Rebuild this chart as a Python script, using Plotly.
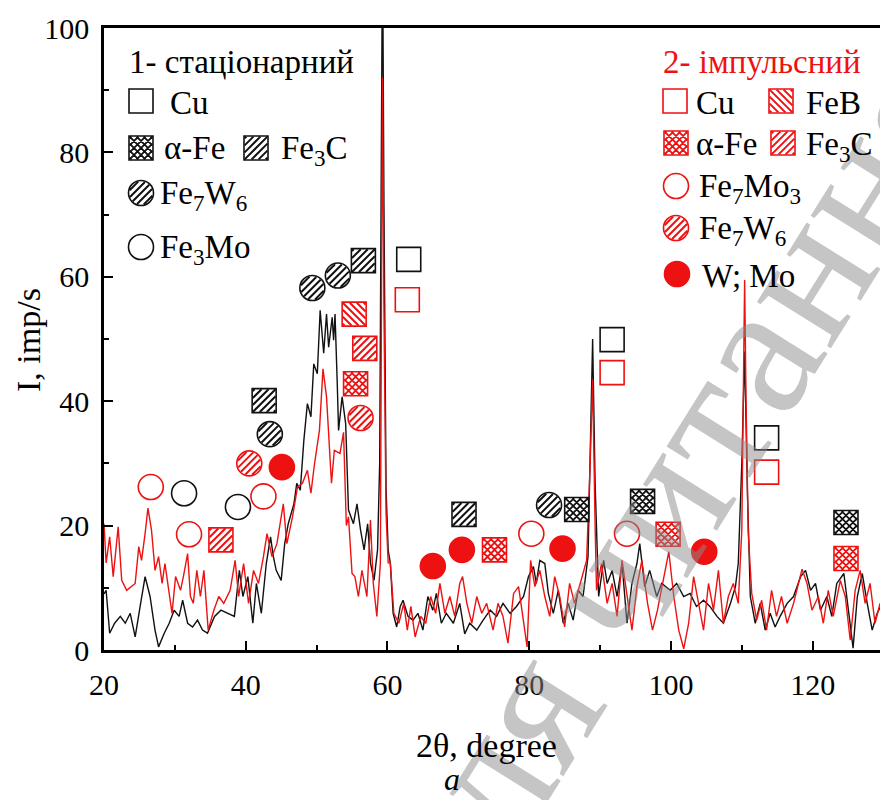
import math
import plotly.graph_objects as go

# ---------------- data: XRD patterns ----------------
x_stat = [20.0, 20.3, 20.8, 21.5, 22.3, 23.0, 23.7, 24.4, 25.1, 25.8, 26.5, 27.2, 27.7, 28.5, 29.2,
          29.9, 30.6, 31.1, 31.8, 32.5, 33.2, 33.9, 34.6, 35.6, 36.5, 37.5, 38.4, 39.1, 39.6, 40.3,
          41.0, 41.5, 42.2, 42.9, 43.5, 43.9, 44.3, 45.0, 45.5, 46.0, 46.8, 47.2, 47.7, 48.2, 48.7,
          49.2, 49.6, 50.1, 50.5, 51.0, 51.4, 51.7, 52.2, 52.4, 52.6, 52.9, 53.1, 53.6, 54.1, 54.5,
          55.2, 55.7, 56.2, 56.7, 57.2, 57.6, 58.1, 58.6, 58.9, 59.1, 59.3, 59.5, 59.8, 60.1, 60.4,
          60.8, 61.3, 61.8, 62.2, 62.9, 63.6, 64.3, 65.0, 65.7, 66.4, 66.9, 67.6, 68.3, 69.3, 70.2,
          70.9, 71.6, 72.6, 73.5, 74.5, 75.4, 76.3, 77.3, 78.2, 79.2, 79.9, 80.6, 81.0, 81.5, 82.2,
          82.7, 83.4, 84.1, 84.8, 85.5, 86.2, 86.9, 87.6, 88.3, 88.7, 88.95, 89.3, 89.8, 90.5, 91.0,
          91.7, 92.4, 93.1, 93.8, 94.5, 95.2, 95.6, 96.3, 97.0, 98.0, 98.7, 99.9, 100.8, 101.8, 102.7,
          103.6, 104.6, 105.5, 106.5, 107.4, 108.4, 109.1, 109.5, 110.0, 110.4, 110.8, 111.2, 111.9,
          112.6, 113.3, 114.0, 114.7, 115.4, 116.4, 117.3, 118.3, 119.0, 119.7, 120.4, 121.1, 122.0,
          122.7, 123.4, 124.4, 125.1, 125.7, 126.3, 127.0, 127.7, 128.4, 129.1, 129.6]
y_stat = [9.0, 9.6, 2.7, 4.3, 5.4, 4.3, 5.9, 2.1, 7.0, 11.8, 8.6, 3.2, 0.5, 2.7, 4.3,
          6.4, 5.4, 8.0, 4.3, 3.7, 4.8, 3.2, 2.7, 5.4, 6.4, 5.9, 5.4, 12.8, 8.6, 11.8,
          4.3, 10.7, 5.9, 13.9, 18.2, 15.0, 12.8, 11.2, 17.1, 20.3, 23.5, 26.8, 25.7, 33.7, 39.6,
          37.5, 46.0, 44.4, 54.6, 47.7, 54.0, 48.7, 53.5, 49.8, 54.0, 43.4, 35.3, 40.7, 36.4, 22.5,
          20.3, 23.5, 19.3, 16.1, 20.3, 14.0, 11.2, 16.1, 30.0, 72.0, 115.0, 72.0, 26.0, 16.0, 14.0,
          5.9, 3.7, 7.0, 8.0, 5.4, 4.8, 5.9, 3.2, 8.6, 6.4, 9.1, 4.3, 5.9, 4.3, 7.5,
          2.6, 4.3, 3.2, 4.8, 6.4, 5.4, 7.5, 5.9, 7.0, 8.6, 11.8, 13.4, 10.7, 14.4, 13.9,
          9.1, 5.9, 9.6, 4.3, 7.5, 4.8, 9.6, 8.6, 15.0, 40.7, 50.0, 26.8, 8.6, 14.4, 10.7,
          12.8, 8.6, 13.9, 4.3, 10.7, 13.9, 17.1, 10.2, 12.8, 8.6, 10.7, 9.6, 10.7, 8.6, 9.1,
          7.0, 8.0, 7.0, 5.4, 4.3, 7.5, 10.2, 13.9, 30.0, 48.0, 25.0, 8.6, 4.3,
          7.5, 3.2, 5.9, 3.7, 5.4, 7.5, 8.6, 11.8, 12.8, 9.6, 10.7, 6.4, 8.6,
          5.4, 10.7, 12.3, 5.9, 0.3, 8.6, 12.3, 7.5, 3.2, 5.9, 7.0]

x_imp = [20.0, 20.3, 20.8, 21.3, 22.0, 22.5, 23.2, 23.9, 24.4, 24.9, 25.3, 25.8, 26.2, 26.7, 27.2,
         27.7, 28.2, 28.6, 29.2, 29.6, 30.1, 30.8, 31.2, 31.8, 32.2, 32.6, 33.1, 33.6, 34.1, 34.7,
         35.5, 36.2, 36.9, 37.8, 38.5, 39.0, 39.7, 40.4, 41.1, 41.8, 42.5, 43.0, 43.7, 44.4, 45.3,
         45.8, 46.6, 47.3, 48.0, 48.7, 49.2, 49.7, 50.4, 50.9, 51.4, 51.8, 52.1, 52.5, 53.3, 53.8,
         54.2, 54.5, 55.0, 55.4, 55.9, 56.4, 57.1, 57.6, 58.0, 58.5, 59.0, 59.15, 59.3, 59.5, 59.8,
         60.1, 60.4, 60.9, 61.6, 62.3, 62.8, 63.3, 63.9, 64.7, 65.4, 66.1, 66.8, 67.4, 68.1, 68.8,
         69.5, 70.2, 70.6, 71.2, 71.9, 72.6, 73.3, 74.0, 74.9, 75.6, 76.3, 77.0, 77.8, 78.5, 79.2,
         79.7, 80.2, 80.8, 81.5, 82.2, 82.9, 83.6, 84.3, 85.0, 85.7, 86.4, 87.2, 88.1, 88.6, 88.95,
         89.3, 89.5, 90.2, 91.0, 91.7, 92.4, 93.1, 93.8, 94.5, 95.2, 95.9, 96.7, 97.4, 98.1, 98.8,
         99.7, 100.4, 101.1, 101.8, 102.5, 103.2, 103.9, 104.6, 105.3, 106.0, 106.7, 107.4, 108.1, 108.8,
         109.5, 110.0, 110.2, 110.4, 110.6, 110.9, 111.4, 112.1, 112.8, 113.5, 114.2, 114.9, 115.6,
         116.4, 117.3, 118.5, 119.2, 119.9, 120.8, 121.5, 122.2, 122.9, 123.9, 124.6, 125.3, 126.0,
         126.7, 127.4, 128.1, 128.8, 129.5]
y_imp = [20.3, 14.0, 18.2, 11.8, 19.8, 11.2, 9.6, 10.2, 10.7, 16.6, 14.4, 18.7, 22.8, 19.3, 12.8,
         15.0, 10.7, 13.9, 8.6, 5.9, 11.8, 9.6, 11.8, 15.5, 8.6, 7.5, 12.8, 8.6, 12.8, 3.2,
         6.4, 8.6, 7.5, 9.6, 14.4, 8.6, 13.9, 7.5, 12.8, 10.7, 15.0, 18.7, 15.0, 17.1, 23.5,
         17.1, 21.4, 26.2, 26.8, 28.9, 25.2, 29.9, 35.3, 45.2, 40.7, 32.1, 26.8, 32.1, 31.6, 35.0,
         20.0, 21.4, 12.3, 11.8, 8.6, 12.8, 8.6, 20.9, 10.7, 5.4, 14.0, 55.0, 92.0, 55.0, 22.0,
         14.0, 14.0, 5.9, 4.3, 7.5, 3.2, 7.0, 2.1, 5.4, 4.3, 8.6, 5.9, 10.7, 5.9, 8.6,
         5.4, 10.7, 11.8, 7.5, 4.3, 8.6, 5.9, 7.5, 3.2, 7.5, 5.4, 1.1, 9.1, 10.2, 4.3,
         0.5, 14.4, 10.2, 12.8, 8.6, 5.4, 11.8, 8.6, 3.7, 10.7, 7.5, 10.7, 14.4, 30.0, 43.5,
         20.0, 9.6, 13.9, 7.5, 10.7, 5.4, 14.4, 8.6, 3.2, 10.2, 14.4, 7.5, 3.2, 6.4, 10.7,
         15.8, 8.6, 3.2, 0.2, 4.3, 11.8, 7.5, 3.2, 10.7, 6.4, 12.8, 4.3, 8.6, 10.7,
         7.5, 19.3, 40.0, 59.5, 40.0, 19.0, 9.1, 4.8, 8.0, 3.2, 9.6, 5.4, 8.6,
         4.3, 7.5, 13.0, 10.7, 6.4, 8.6, 4.3, 9.6, 5.4, 11.2, 8.6, 1.6, 9.6,
         12.8, 7.5, 10.7, 4.3, 7.5]

# ---------------- data: phase marks, series 1 (stationary) ----------------
cu1_x = [63.0, 91.7, 113.5];          cu1_y = [62.8, 49.9, 34.1]
afe1_x = [86.7, 96.0, 124.7];         afe1_y = [22.6, 23.9, 20.5]
fe3c1_x = [42.6, 56.6, 70.8];         fe3c1_y = [40.1, 62.6, 21.8]
fe7w6_1_x = [43.4, 49.4, 53.0, 82.8]; fe7w6_1_y = [34.7, 58.2, 60.2, 23.3]
fe3mo1_x = [31.3, 38.9];              fe3mo1_y = [25.2, 23.0]

# ---------------- data: phase marks, series 2 (impulse) ----------------
cu2_x = [62.8, 91.7, 113.5];                  cu2_y = [56.3, 44.6, 28.6]
feb2_x = [55.3];                              feb2_y = [54.0]
fe3c2_x = [36.5, 56.8];                       fe3c2_y = [17.7, 48.5]
afe2_x = [55.5, 75.1, 99.6, 124.7];           afe2_y = [42.8, 16.1, 18.6, 14.7]
fe7mo3_2_x = [26.6, 32.0, 42.5, 80.3, 93.8];  fe7mo3_2_y = [26.2, 18.6, 24.7, 18.7, 18.7]
fe7w6_2_x = [40.5, 56.2];                     fe7w6_2_y = [30.0, 37.3]
wmo2_x = [45.1, 66.4, 70.5, 84.7, 104.7];     wmo2_y = [29.4, 13.5, 16.1, 16.3, 15.8]

x_ticks = [20, 40, 60, 80, 100, 120]
y_ticks = [0, 20, 40, 60, 80, 100]

BLACK = "#111111"
RED = "#ee1111"
FONT = "Liberation Serif"
LEG = 33

# ---------------- glyph helpers (pixel-sized shapes anchored at data points) ----------------
H = 12.0
R = 12.5
S2 = math.sqrt(2)


def hatch_path(kind, hatch, step=7.0):
    dirs = ["/", "\\"] if hatch == "x" else [hatch]
    segs = []
    for d in dirs:
        sg = 1 if d == "/" else -1
        if kind == "square":
            h = H - 0.6
            for i in range(-3, 4):
                c = i * step
                if c >= 0:
                    p0, p1 = (-h + c, -h), (h, h - c)
                else:
                    p0, p1 = (-h, -h - c), (h + c, h)
                segs.append(((sg * p0[0], p0[1]), (sg * p1[0], p1[1])))
        else:
            r = R - 0.8
            for dd in (-10, -5, 0, 5, 10):
                t = math.sqrt(max(r * r - dd * dd, 0))
                cx, cy = dd / S2, -dd / S2
                p0 = (cx - t / S2, cy - t / S2)
                p1 = (cx + t / S2, cy + t / S2)
                segs.append(((sg * p0[0], p0[1]), (sg * p1[0], p1[1])))
    return " ".join(f"M{a[0]:.2f},{a[1]:.2f} L{b[0]:.2f},{b[1]:.2f}" for a, b in segs)


def glyph(kind, hatch, color, ax, ay, xref="x", yref="y"):
    common = dict(xref=xref, yref=yref, xsizemode="pixel", ysizemode="pixel",
                  xanchor=ax, yanchor=ay, layer="above")
    out = []
    fill = color if hatch == "fill" else "white"
    if kind == "square":
        out.append(dict(type="rect", x0=-H, x1=H, y0=-H, y1=H, fillcolor=fill,
                        line=dict(color=color, width=1.6), **common))
    else:
        out.append(dict(type="circle", x0=-R, x1=R, y0=-R, y1=R, fillcolor=fill,
                        line=dict(color=color, width=1.6), **common))
    if hatch in ("/", "\\", "x"):
        out.append(dict(type="path", path=hatch_path(kind, hatch),
                        line=dict(color=color, width=2.0 if hatch != "x" else 1.8), **common))
    return out


# plot area in pixels
L, T, W, Hh = 104, 28, 776, 622


def px2paper(px, py):
    return (px - L) / W, (T + Hh - py) / Hh


fig = go.Figure()
fig.add_trace(go.Scatter(x=x_stat, y=y_stat, mode="lines", line=dict(color=BLACK, width=1.4),
                         showlegend=False, hoverinfo="skip"))
fig.add_trace(go.Scatter(x=x_imp, y=y_imp, mode="lines", line=dict(color=RED, width=1.4),
                         showlegend=False, hoverinfo="skip"))

shapes = []
marks = [
    (cu1_x, cu1_y, "square", "none", BLACK),
    (afe1_x, afe1_y, "square", "x", BLACK),
    (fe3c1_x, fe3c1_y, "square", "/", BLACK),
    (fe7w6_1_x, fe7w6_1_y, "circle", "/", BLACK),
    (fe3mo1_x, fe3mo1_y, "circle", "none", BLACK),
    (cu2_x, cu2_y, "square", "none", RED),
    (feb2_x, feb2_y, "square", "\\", RED),
    (fe3c2_x, fe3c2_y, "square", "/", RED),
    (afe2_x, afe2_y, "square", "x", RED),
    (fe7mo3_2_x, fe7mo3_2_y, "circle", "none", RED),
    (fe7w6_2_x, fe7w6_2_y, "circle", "/", RED),
    (wmo2_x, wmo2_y, "circle", "fill", RED),
]
for xs, ys, kind, hatch, col in marks:
    for xv, yv in zip(xs, ys):
        shapes += glyph(kind, hatch, col, xv, yv)

annotations = []


def label(px, py, text, color="black", size=LEG, xanchor="left", angle=0):
    xp, yp = px2paper(px, py)
    annotations.append(dict(x=xp, y=yp, xref="paper", yref="paper", text=text, showarrow=False,
                            xanchor=xanchor, yanchor="middle", textangle=angle,
                            font=dict(family=FONT, size=size, color=color)))


def leg_glyph(px, py, kind, hatch, col):
    xp, yp = px2paper(px, py)
    return glyph(kind, hatch, col, xp, yp, xref="paper", yref="paper")


# watermark (drawn first so that it sits under other annotations)
wx, wy = px2paper(668, 488)
annotations.append(dict(x=wx, y=wy, xref="paper", yref="paper", text="для читання", showarrow=False,
                        xanchor="center", yanchor="middle",
                        textangle=-58, font=dict(family=FONT, size=190, color="rgba(140,140,140,0.5)")))

# left legend
label(127, 62, "1- стаціонарний")
shapes += leg_glyph(141, 101, "square", "none", BLACK); label(168, 103, "Cu")
shapes += leg_glyph(141, 148, "square", "x", BLACK); label(162, 148, "α-Fe")
shapes += leg_glyph(256, 148, "square", "/", BLACK); label(279, 150, "Fe<sub>3</sub>C")
shapes += leg_glyph(141, 193, "circle", "/", BLACK); label(158, 196, "Fe<sub>7</sub>W<sub>6</sub>")
shapes += leg_glyph(141, 247, "circle", "none", BLACK); label(158, 249, "Fe<sub>3</sub>Mo")

# right legend
label(661, 62, "2- імпульсний", color=RED)
shapes += leg_glyph(675, 101, "square", "none", RED); label(694, 103, "Cu")
shapes += leg_glyph(781, 101, "square", "\\", RED); label(804, 103, "FeB")
shapes += leg_glyph(676, 143, "square", "x", RED); label(694, 144, "α-Fe")
shapes += leg_glyph(783, 143, "square", "/", RED); label(804, 146, "Fe<sub>3</sub>C")
shapes += leg_glyph(676, 186, "circle", "none", RED); label(697, 189, "Fe<sub>7</sub>Mo<sub>3</sub>")
shapes += leg_glyph(676, 228, "circle", "/", RED); label(697, 231, "Fe<sub>7</sub>W<sub>6</sub>")
shapes += leg_glyph(677, 274, "circle", "fill", RED); label(700, 276, "W; Mo")

# axis titles
label(486, 745, "2θ, degree", size=34, xanchor="center")
label(452, 779, "<i>a</i>", size=32, xanchor="center")
label(28, 340, "I, imp/s", size=34, xanchor="center", angle=-90)

fig.update_layout(
    width=880, height=800,
    margin=dict(l=L, r=880 - L - W, t=T, b=800 - T - Hh, pad=0),
    paper_bgcolor="white", plot_bgcolor="white",
    shapes=shapes, annotations=annotations,
    showlegend=False,
)
fig.update_xaxes(range=[20, 129.5], tickmode="array", tickvals=x_ticks, ticktext=[str(v) for v in x_ticks],
                 ticks="inside", ticklen=9, tickwidth=2, tickcolor="black",
                 minor=dict(ticks="inside", ticklen=5, tickwidth=2, tickcolor="black", dtick=10, tick0=20),
                 showline=True, linewidth=2.5, linecolor="black", mirror=True,
                 showgrid=False, zeroline=False,
                 tickfont=dict(family=FONT, size=30, color="black"), ticklabelstandoff=6)
fig.update_yaxes(range=[0, 100], tickmode="array", tickvals=y_ticks, ticktext=[str(v) for v in y_ticks],
                 ticks="inside", ticklen=9, tickwidth=2, tickcolor="black",
                 minor=dict(ticks="inside", ticklen=5, tickwidth=2, tickcolor="black", dtick=10, tick0=0),
                 showline=True, linewidth=2.5, linecolor="black", mirror=False,
                 showgrid=False, zeroline=False,
                 tickfont=dict(family=FONT, size=30, color="black"), ticklabelstandoff=6)

fig.write_html("out.html")
